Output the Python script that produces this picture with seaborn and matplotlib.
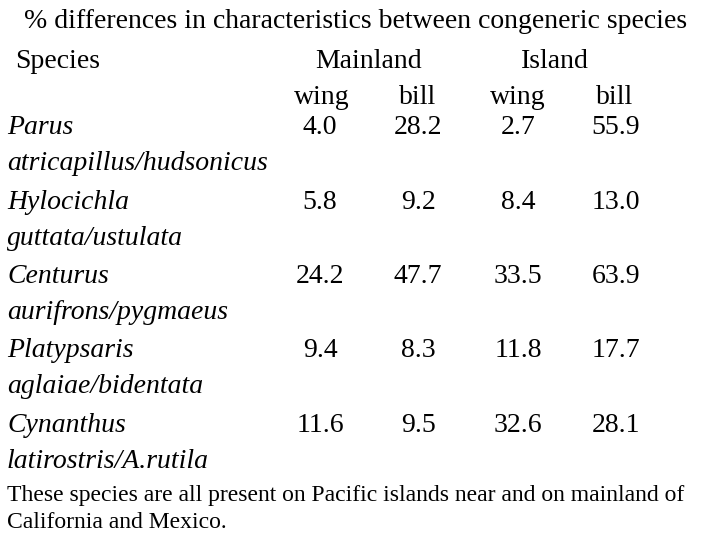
import matplotlib
matplotlib.use("Agg")
import matplotlib.pyplot as plt
import seaborn as sns

title = "% differences in characteristics between congeneric species"
genus = ["Parus", "Hylocichla", "Centurus", "Platypsaris", "Cynanthus"]
species = ["atricapillus/hudsonicus", "guttata/ustulata", "aurifrons/pygmaeus",
           "aglaiae/bidentata", "latirostris/A.rutila"]
main_wing = ["4.0", "5.8", "24.2", "9.4", "11.6"]
main_bill = ["28.2", "9.2", "47.7", "8.3", "9.5"]
isl_wing = ["2.7", "8.4", "33.5", "11.8", "32.6"]
isl_bill = ["55.9", "13.0", "63.9", "17.7", "28.1"]
footer = ["These species are all present on Pacific islands near and on mainland of",
          "California and Mexico."]

sns.set_theme(style="white")
plt.rcParams['font.family'] = ['Liberation Serif', 'DejaVu Serif']
plt.rcParams['text.color'] = 'black'

fig = plt.figure(figsize=(7.2, 5.4), dpi=100)
ax = fig.add_axes([0, 0, 1, 1])
ax.set_xlim(0, 720)
ax.set_ylim(540, 0)
ax.axis("off")

fs = 20
ax.text(356, 22, title, fontsize=fs, ha="center", va="center")
ax.text(15, 62, "Species", fontsize=fs, va="center")
ax.text(369, 62, "Mainland", fontsize=fs, ha="center", va="center")
ax.text(555, 62, "Island", fontsize=fs, ha="center", va="center")
for x, lab in zip([322, 418, 518, 615], ["wing", "bill", "wing", "bill"]):
    ax.text(x, 97, lab, fontsize=fs, ha="center", va="center")

cols = [(320, main_wing), (418, main_bill), (518, isl_wing), (616, isl_bill)]
for i in range(len(genus)):
    y = 128 + i * 74.3
    ax.text(7, y, genus[i], fontsize=fs, style="italic", va="center")
    ax.text(7, y + 36, species[i], fontsize=fs, style="italic", va="center")
    for x, vals in cols:
        ax.text(x, y, vals[i], fontsize=fs, ha="center", va="center")

ax.text(7, 495, footer[0], fontsize=17, va="center")
ax.text(7, 523, footer[1], fontsize=17, va="center")

fig.savefig("out.png", dpi=100)
